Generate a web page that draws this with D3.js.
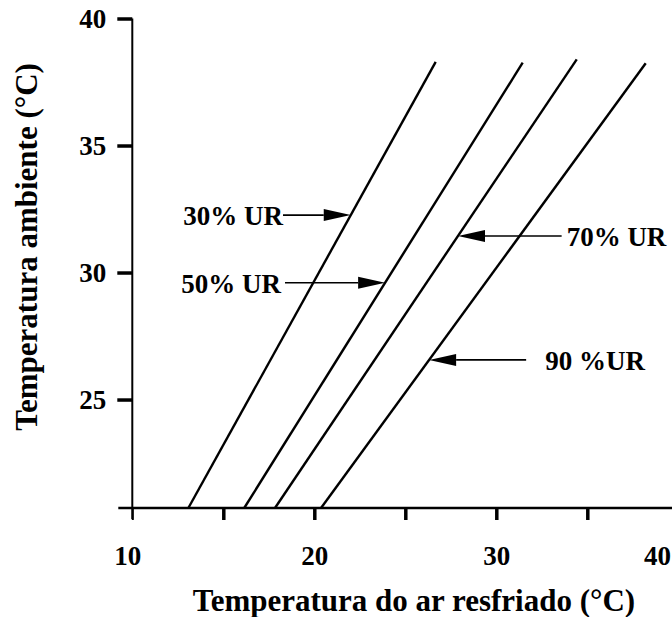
<!DOCTYPE html>
<html>
<head>
<meta charset="utf-8">
<script src="https://cdn.jsdelivr.net/npm/d3@7"></script>
<style>
  body { margin: 0; background: #fff; }
  svg { display: block; font-family: "Liberation Serif", "Times New Roman", serif; font-weight: bold; }
</style>
</head>
<body>
<div id="chart"></div>
<script>
let width = 672, height = 617;

// curves: [temperatura do ar resfriado, temperatura ambiente]
const rhNames = ["30% UR", "50% UR", "70% UR", "90 %UR"];
const coolStart = [13.08, 16.15, 17.84, 20.37];
const coolEnd = [26.67, 31.45, 34.42, 38.21];
const ambStart = [20.73, 20.73, 20.73, 20.73];
const ambEnd = [38.29, 38.26, 38.39, 38.24];

// annotation arrows: ambient value where the arrow sits, cooled value of its tail
const arrowAmb = [32.26, 29.6, 31.44, 26.56];
const arrowTail = [18.28, 18.39, 33.59, 31.64];

const xTicks = [10, 15, 20, 25, 30, 35, 40];
const xLabels = [10, 20, 30, 40];
const yTicks = [25, 30, 35, 40];

const x = d3.scaleLinear().domain([10, 40]).range([132.3, 678.3]);
const y = d3.scaleLinear().domain([20.73, 40]).range([508, 18.5]);

const svg = d3
  .select("#chart")
  .append("svg")
  .attr("width", width)
  .attr("height", height);

// axis lines (they cross a little, like the original)
svg.append("line")
  .attr("x1", x(10)).attr("x2", x(10))
  .attr("y1", y(40)).attr("y2", y.range()[0] + 11)
  .attr("stroke", "#000").attr("stroke-width", 2);

svg.append("line")
  .attr("x1", x(10) - 14).attr("x2", width)
  .attr("y1", y.range()[0]).attr("y2", y.range()[0])
  .attr("stroke", "#000").attr("stroke-width", 2.5);

// y axis ticks + labels
svg.append("g")
  .attr("transform", `translate(${x(10)},0)`)
  .call(d3.axisLeft(y).tickValues(yTicks).tickSize(15).tickPadding(11))
  .attr("font-family", null)
  .call((g) => g.select(".domain").remove())
  .call((g) => g.selectAll(".tick line").attr("stroke-width", 3.5))
  .call((g) => g.selectAll(".tick text").attr("font-size", 27).attr("fill", "#000"));

// x axis ticks + labels
svg.append("g")
  .attr("transform", `translate(0,${y.range()[0]})`)
  .call(
    d3.axisBottom(x)
      .tickValues(xTicks)
      .tickSize(12)
      .tickPadding(26)
      .tickFormat((d) => (xLabels.includes(d) ? d : ""))
  )
  .attr("font-family", null)
  .call((g) => g.select(".domain").remove())
  .call((g) => g.selectAll(".tick line").attr("stroke-width", (d) => (d == 10 ? 2 : 3.5)))
  .call((g) =>
    g.selectAll(".tick text")
      .attr("font-size", 27)
      .attr("fill", "#000")
      // keep the last label on the page
      .attr("x", (d) => (d == 40 ? width - 15 - x(40) : d == 10 ? -5 : 0))
  );

// titles
svg.append("text")
  .attr("x", 414)
  .attr("y", 611)
  .attr("text-anchor", "middle")
  .attr("font-size", 31)
  .text("Temperatura do ar resfriado (°C)");

svg.append("text")
  .attr("transform", "translate(37,247) rotate(-90)")
  .attr("text-anchor", "middle")
  .attr("font-size", 31)
  .text("Temperatura ambiente (°C)");

// RH curves
const curves = rhNames.map((name, i) => ({
  name,
  points: [
    [coolStart[i], ambStart[i]],
    [coolEnd[i], ambEnd[i]],
  ],
}));

const line = d3.line().x((d) => x(d[0])).y((d) => y(d[1]));

svg.append("g")
  .selectAll("path")
  .data(curves)
  .join("path")
  .attr("fill", "none")
  .attr("stroke", "#000")
  .attr("stroke-width", 2.4)
  .attr("d", (d) => line(d.points));

// annotations
const labelSide = ["left", "left", "right", "right"];
const labelGap = [0, 4, 5, 19];
const headLen = 27, headHalf = 6;

rhNames.forEach((name, i) => {
  const p = curves[i].points;
  const t = (arrowAmb[i] - p[0][1]) / (p[1][1] - p[0][1]);
  const tipX = x(p[0][0] + t * (p[1][0] - p[0][0]));
  const ay = y(arrowAmb[i]);
  const tailX = x(arrowTail[i]);
  const dir = tipX > tailX ? 1 : -1;

  svg.append("line")
    .attr("x1", tailX).attr("x2", tipX - dir * headLen)
    .attr("y1", ay).attr("y2", ay)
    .attr("stroke", "#000").attr("stroke-width", 1.6);

  svg.append("path")
    .attr("d", `M${tipX},${ay}L${tipX - dir * headLen},${ay - headHalf}L${tipX - dir * headLen},${ay + headHalf}Z`)
    .attr("fill", "#000");

  const left = labelSide[i] == "left";
  svg.append("text")
    .attr("x", left ? tailX - labelGap[i] : tailX + labelGap[i])
    .attr("y", ay)
    .attr("dy", "0.38em")
    .attr("text-anchor", left ? "end" : "start")
    .attr("font-size", 27)
    .text(name);
});
</script>
</body>
</html>
